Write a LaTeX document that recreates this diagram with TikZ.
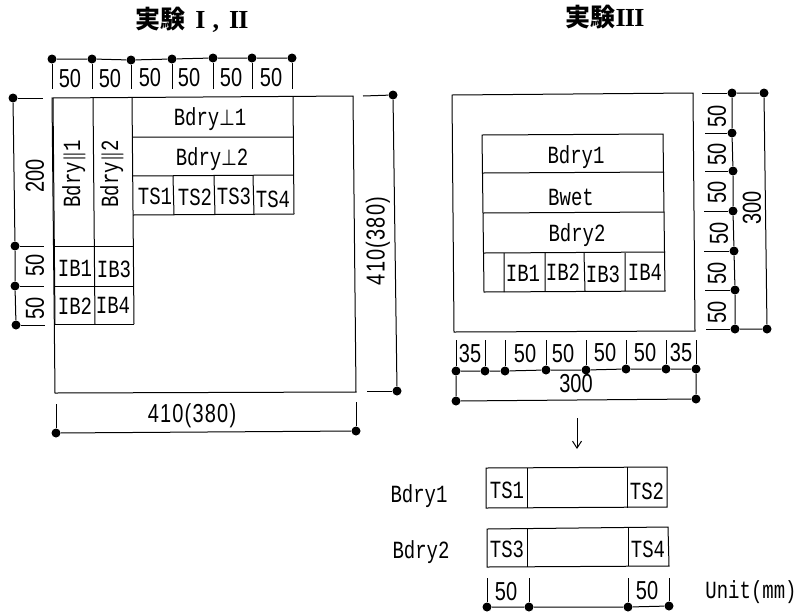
\documentclass[tikz,border=0pt]{standalone}
\usepackage{amsmath,amssymb}
\usepackage{fontspec}
\setsansfont{Liberation Sans}
\setmonofont{Liberation Mono}
\newfontfamily\cjk{Noto Sans CJK JP}
\newfontfamily\romfont{Liberation Serif}
\usetikzlibrary{positioning,arrows.meta}
\tikzset{
	dimdot/.style={circle,fill=black,inner sep=0pt,minimum size=9pt},
	lab/.style={inner sep=0pt,font=\ttfamily\fontsize{19}{19}\selectfont\boldmath,transform shape,yscale=1.3},
	num/.style={inner sep=0pt,font=\sffamily\fontsize{20}{20}\selectfont,transform shape,yscale=1.3},
	wnum/.style={num,font=\sffamily\fontsize{20}{20}\selectfont\addfontfeature{LetterSpace=6}},
	ttl/.style={inner sep=0pt,font=\cjk\bfseries\fontsize{25}{25}\selectfont}
}
\newcommand{\rmn}[1]{{\romfont\bfseries\fontsize{26}{26}\selectfont\addfontfeature{LetterSpace=-3}#1}}

\begin{document}
\begin{tikzpicture}[x=1pt,y=-1pt,line width=1pt]
	\useasboundingbox (0,0) rectangle (802,611);
	% titles
	\node[ttl] (t1) at (192,20) {実験\hspace{10pt}\rmn{I}\hspace{7pt}\rmn{,}\hspace{10pt}\rmn{II}};
	\node[ttl] (t2) at (605,17) {実験\rmn{III}};
	% left plate
	\draw (52,98) -- (353,96) -- (356,392) -- (55,393) -- cycle;
	\draw (53,98) -- (55,324) (93,98) -- (95,324) (132,97) -- (134,324);
	\draw (54,246) -- (133,246) (54,286) -- (134,286) (55,324) -- (134,324);
	\draw (132,137) -- (293,137) (132,176) -- (293,175) (133,215) -- (294,214);
	\draw (293,97) -- (294,214) (173,176) -- (174,215) (214,176) -- (215,215) (253,176) -- (254,215);
	\node[rotate=90,lab] (pa1) at (74,174) {Bdry$\parallel$1};
	\node[rotate=90,lab] (pa2) at (112,174) {Bdry$\parallel$2};
	\node[lab] (pe1) at (210,119) {Bdry$\perp$1};
	\node[lab] (pe2) at (212,159) {Bdry$\perp$2};
	\node[lab] (ts1) at (155,196) {TS1};
	\node[lab] (ts2) at (195,197) {TS2};
	\node[lab] (ts3) at (234,196) {TS3};
	\node[lab] (ts4) at (273,199) {TS4};
	\node[lab] (ib1) at (75,268) {IB1};
	\node[lab] (ib3) at (114,269) {IB3};
	\node[lab] (ib2) at (75,306) {IB2};
	\node[lab] (ib4) at (113,305) {IB4};
	% left plate dimensions
	\foreach \n/\x/\y/\tx/\ty in {a1/52/59/52/89,a2/92/59/92/89,a3/131/60/131/89,a4/172/59/172/89,a5/213/58/213/89,a6/252/58/252/89,a7/292/58/292/89,
		b1/13/98/43/98,b2/15/246/44/246,b3/15/286/44/286,b4/16/325/45/325,
		c1/393/95/363/96,c2/397/391/367/391,e1/56/433/56/404,e2/356/431/356/402}{
		\node[dimdot] (\n) at (\x,\y) {};
		\coordinate (\n t) at (\tx,\ty);
		\draw (\n) -- (\n t);
	}
	\draw (a1) -- (a2) -- (a3) -- (a4) -- (a5) -- (a6) -- (a7);
	\draw (b1) -- (b2) -- (b3) -- (b4);
	\draw (c1) -- (c2);
	\draw (e1) -- (e2);
	\node[num] (n1) at (70,79) {50};
	\node[num] (n2) at (110,79) {50};
	\node[num] (n3) at (150,78) {50};
	\node[num] (n4) at (189,78) {50};
	\node[num] (n5) at (231,78) {50};
	\node[num] (n6) at (271,78) {50};
	\node[rotate=90,num] (n7) at (35,176) {200};
	\node[rotate=90,num] (n8) at (35,265) {50};
	\node[rotate=90,num] (n9) at (35,308) {50};
	\node[rotate=90,wnum] (n10) at (378,241) {410(380)};
	\node[wnum] (n11) at (192,416) {410(380)};
	% right plate
	\draw (452,95) -- (693,93) -- (695,331) -- (454,332) -- cycle;
	\draw (482,135) -- (663,134) -- (665,291) -- (484,292) -- cycle;
	\draw (483,173) -- (664,172) (483,213) -- (664,212) (484,253) -- (665,252);
	\draw (504,253) -- (504,292) (545,253) -- (545,291) (584,253) -- (585,291) (625,253) -- (625,291);
	\node[lab] (r1) at (576,157) {Bdry1};
	\node[lab] (r2) at (571,197) {Bwet};
	\node[lab] (r3) at (577,235) {Bdry2};
	\node[lab] (r4) at (523,273) {IB1};
	\node[lab] (r5) at (563,272) {IB2};
	\node[lab] (r6) at (603,274) {IB3};
	\node[lab] (r7) at (645,272) {IB4};
	% right plate dimensions
	\foreach \n/\x/\y/\tx/\ty in {f1/732/93/702/93,f2/732/133/705/133,f3/733/171/705/171,f4/733/211/704/211,f5/734/251/704/251,f6/735/290/705/290,f7/735/329/706/329,
		h1/456/371/456/340,h2/485/371/485/340,h3/505/371/505/340,h4/546/370/546/340,h5/586/370/586/340,h6/626/369/626/340,h7/666/369/666/340,h8/696/369/696/340}{
		\node[dimdot] (\n) at (\x,\y) {};
		\coordinate (\n t) at (\tx,\ty);
		\draw (\n) -- (\n t);
	}
	\node[dimdot] (g1) at (764,93) {};
	\node[dimdot] (g2) at (767,329) {};
	\node[dimdot] (k1) at (456,401) {};
	\node[dimdot] (k2) at (696,399) {};
	\draw (f1) -- (f2) -- (f3) -- (f4) -- (f5) -- (f6) -- (f7);
	\draw (f1) -- (g1) -- (g2) -- (f7);
	\draw (h1) -- (h2) -- (h3) -- (h4) -- (h5) -- (h6) -- (h7) -- (h8);
	\draw (h1) -- (k1) -- (k2) -- (h8);
	\node[rotate=90,num] (m1) at (717,116) {50};
	\node[rotate=90,num] (m2) at (717,154) {50};
	\node[rotate=90,num] (m3) at (717,192) {50};
	\node[rotate=90,num] (m4) at (719,233) {50};
	\node[rotate=90,num] (m5) at (717,273) {50};
	\node[rotate=90,num] (m6) at (717,312) {50};
	\node[rotate=90,num] (m7) at (752,208) {300};
	\node[num] (m8) at (470,354) {35};
	\node[num] (m9) at (525,354) {50};
	\node[num] (m10) at (563,354) {50};
	\node[num] (m11) at (605,353) {50};
	\node[num] (m12) at (645,353) {50};
	\node[num] (m13) at (681,353) {35};
	\node[num] (m14) at (576,384) {300};
	% arrow
	\coordinate (s1) at (577,418);
	\coordinate (s2) at (577,449);
	\draw[-{Straight Barb[length=7pt,width=9pt]}] (s1) -- (s2);
	% lower boxes
	\draw (486,468) -- (667,467) -- (667,507) -- (486,508) -- cycle;
	\draw (487,529) -- (668,527) -- (669,566) -- (487,567) -- cycle;
	\draw (527,468) -- (527,508) (627,467) -- (627,508) (527,529) -- (527,567) (628,528) -- (628,566);
	\node[lab] (u1) at (507,490) {TS1};
	\node[lab] (u2) at (647,491) {TS2};
	\node[lab] (u3) at (507,549) {TS3};
	\node[lab] (u4) at (648,549) {TS4};
	\node[lab] (u5) at (419,496) {Bdry1};
	\node[lab] (u6) at (421,552) {Bdry2};
	\node[lab] (u7) at (751,592) {Unit(mm)};
	\foreach \n/\x/\y/\ty in {w1/487/607/578,w2/529/607/578,w3/628/607/578,w4/669/606/578}{
		\node[dimdot] (\n) at (\x,\y) {};
		\coordinate (\n t) at (\x,\ty);
		\draw (\n) -- (\n t);
	}
	\draw (w1) -- (w2) -- (w3) -- (w4);
	\node[num] (v1) at (506,592) {50};
	\node[num] (v2) at (647,591) {50};
\end{tikzpicture}
\end{document}
